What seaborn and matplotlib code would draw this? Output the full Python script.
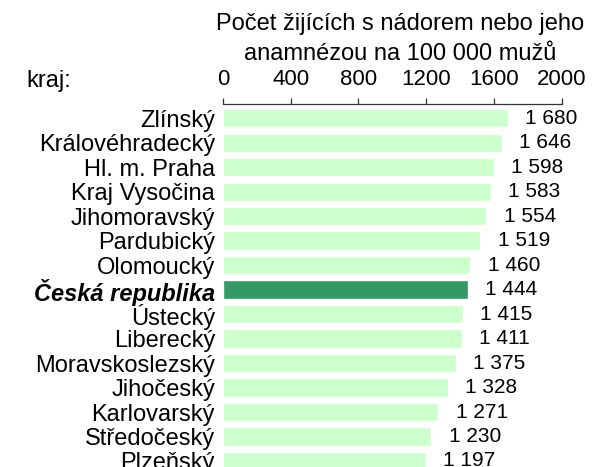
import matplotlib
matplotlib.use("Agg")
import matplotlib.pyplot as plt
import seaborn as sns
import pandas as pd

regions = ["Zlínský", "Královéhradecký", "Hl. m. Praha", "Kraj Vysočina",
           "Jihomoravský", "Pardubický", "Olomoucký", "Česká republika",
           "Ústecký", "Liberecký", "Moravskoslezský", "Jihočeský",
           "Karlovarský", "Středočeský", "Plzeňský"]
values = [1680, 1646, 1598, 1583, 1554, 1519, 1460, 1444,
          1415, 1411, 1375, 1328, 1271, 1230, 1197]
x_ticks = [0, 400, 800, 1200, 1600, 2000]
national = "Česká republika"

light = "#CCFFCC"
dark = "#339966"
colors = {r: (dark if r == national else light) for r in regions}

sns.set_theme(style="white")
plt.rcParams["font.family"] = ["Liberation Sans", "DejaVu Sans"]

df = pd.DataFrame({"kraj": regions, "pocet": values})

W, H = 593, 467
fig = plt.figure(figsize=(W / 100, H / 100), dpi=100)

# axes geometry in pixels: top axis line, bar pitch
left_px, right_px, top_px = 223.0, 561.7, 104.3
pitch = 24.48
y_top, y_bot = -0.57, len(regions) - 0.5
height_px = (y_bot - y_top) * pitch
ax = fig.add_axes([left_px / W, 1 - (top_px + height_px) / H,
                   (right_px - left_px) / W, height_px / H])

sns.barplot(data=df, x="pocet", y="kraj", hue="kraj", palette=colors,
            legend=False, width=0.75, saturation=1, orient="h", ax=ax)

ax.set_xlim(0, 2000)
ax.set_ylim(y_bot, y_top)
ax.set_xlabel("")
ax.set_ylabel("")

for s in ["left", "right", "bottom"]:
    ax.spines[s].set_visible(False)
ax.spines["top"].set_color("#333333")
ax.spines["top"].set_linewidth(0.9)

ax.xaxis.tick_top()
ax.set_xticks(x_ticks)
ax.set_xticklabels([str(t) for t in x_ticks])
ax.tick_params(axis="x", which="major", top=True, bottom=False, direction="out",
               length=4, width=0.9, color="#333333", pad=6.5,
               labelsize=16, labelcolor="black")
ax.tick_params(axis="y", length=0, pad=5.8, labelsize=17, labelcolor="black")

for lbl in ax.get_yticklabels():
    if lbl.get_text() == national:
        lbl.set_fontweight("bold")
        lbl.set_fontstyle("italic")

# value labels after each bar
for i, v in enumerate(values):
    txt = f"{v:,}".replace(",", " ")
    ax.annotate(txt, xy=(v, i), xytext=(12.5, 0), textcoords="offset points",
                ha="left", va="center", fontsize=15, color="black",
                annotation_clip=False)

# header
fig.text(400 / W, 1 - 30 / H, "Počet žijících s nádorem nebo jeho",
         ha="center", va="baseline", fontsize=17, color="black")
fig.text(400 / W, 1 - 60 / H, "anamnézou na 100 000 mužů",
         ha="center", va="baseline", fontsize=17, color="black")
fig.text(26.7 / W, 1 - 86.7 / H, "kraj:", ha="left", va="baseline",
         fontsize=17, color="black")

fig.savefig("out.png", dpi=100, facecolor="white")
